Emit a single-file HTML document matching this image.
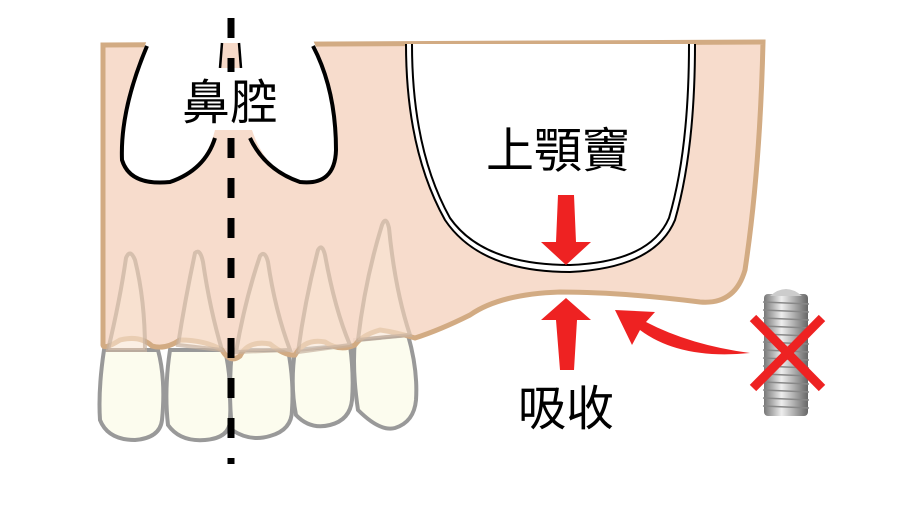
<!DOCTYPE html>
<html><head><meta charset="utf-8"><style>
html,body{margin:0;padding:0;background:#fff;width:914px;height:514px;overflow:hidden}
text{font-family:"Liberation Sans","Noto Sans CJK TC",sans-serif}
</style></head><body>
<svg width="914" height="514" viewBox="0 0 914 514" xmlns="http://www.w3.org/2000/svg">
<defs>
<linearGradient id="met" x1="0" x2="1" y1="0" y2="0">
<stop offset="0" stop-color="#777"/><stop offset="0.4" stop-color="#eee"/><stop offset="1" stop-color="#666"/>
</linearGradient>
</defs>
<!-- teeth crowns -->
<g fill="#fcfcee" stroke="#999" stroke-width="4">
<path d="M104,350 Q98,390 100,420 Q108,440 135,440 Q160,438 162,420 Q166,380 158,350 Z"/>
<path d="M170,350 Q164,390 168,425 Q180,442 205,440 Q230,438 230,420 Q232,380 225,350 Z"/>
<path d="M232,350 Q228,390 232,430 Q250,442 270,436 Q292,430 292,410 Q294,380 288,350 Z"/>
<path d="M295,350 Q290,385 296,415 Q310,430 330,425 Q350,420 352,400 Q354,375 350,345 Z"/>
<path d="M355,340 Q352,370 358,410 Q380,432 395,428 Q414,422 416,400 Q418,370 408,335 Z"/>
</g>
<!-- bone -->
<path d="M103,45 L763,42 Q760,170 745,270 Q735,305 700,302 Q620,292 560,292 Q500,294 470,315 Q440,330 415,338 Q395,332 380,330 Q362,335 355,345 Q340,352 325,342 Q305,338 295,355 Q285,356 270,344 Q248,340 240,356 Q230,364 222,350 Q205,340 180,340 Q165,350 152,346 Q140,335 120,340 Q104,350 103,345 Z" fill="#f6d9c8" fill-opacity="0.93" stroke="#d2ab83" stroke-width="5"/>
<!-- roots -->
<g fill="#f8e5d2" fill-opacity="0.6" stroke="#c8b2a0" stroke-opacity="0.7" stroke-width="4">
<path d="M108,350 Q120,300 126,258 Q130,248 135,260 Q145,300 145,350 Z"/>
<path d="M178,345 Q185,300 195,253 Q200,248 203,262 Q210,310 222,350 Z"/>
<path d="M236,352 Q245,300 260,256 Q265,250 268,262 Q275,310 290,350 Z"/>
<path d="M298,352 Q305,300 318,250 Q322,243 325,255 Q335,310 350,345 Z"/>
<path d="M358,340 Q365,280 382,225 Q386,215 389,228 Q395,290 410,335 Z"/>
</g>
<!-- nasal cavity -->
<path d="M147,40 Q120,110 122,160 Q130,186 170,182 Q205,170 215,130 L252,130 Q265,170 300,182 Q335,186 336,150 Q336,90 313,40 Z" fill="#fff"/>
<path d="M147,46 Q120,110 122,160 Q130,186 170,182 Q205,170 215,138" fill="none" stroke="#000" stroke-width="4"/>
<path d="M250,138 Q265,170 300,182 Q335,186 336,150 Q336,90 313,46" fill="none" stroke="#000" stroke-width="4"/>
<path d="M222,43 L220,68 L241,68 L239,43 Z" fill="#f6d9c8"/>
<line x1="222" y1="43" x2="220" y2="68" stroke="#000" stroke-width="2.5"/>
<line x1="239" y1="43" x2="241" y2="68" stroke="#000" stroke-width="2.5"/>
<rect x="178" y="68" width="104" height="62" fill="#fff"/>
<!-- sinus -->
<path d="M406,44 Q406,150 445,220 Q480,272 570,272 Q655,268 675,220 Q695,150 695,44" fill="#fff" stroke="#000" stroke-width="2"/>
<path d="M412,44 Q412,150 450,218 Q483,265 570,265 Q650,262 669,218 Q689,150 689,44" fill="none" stroke="#000" stroke-width="2"/>
<!-- dashed line -->
<line x1="231" y1="18" x2="231" y2="464" stroke="#000" stroke-width="7" stroke-dasharray="20,20"/>
<rect x="178" y="72" width="104" height="56" fill="#fff"/>
<!-- labels -->
<text x="230" y="119" font-size="48" text-anchor="middle" fill="#000">鼻腔</text>
<text x="558" y="167" font-size="48" text-anchor="middle" fill="#000">上顎竇</text>
<text x="566" y="425" font-size="48" text-anchor="middle" fill="#000">吸收</text>
<!-- arrows -->
<path d="M558,195 L574,195 L576,242 L591,242 L566,265 L541,242 L556,242 Z" fill="#ee2222"/>
<path d="M566,298 L591,320 L577,320 L574,370 L560,370 L556,320 L541,320 Z" fill="#ee2222"/>
<path d="M750,353 Q680,360 640,330 L632,345 L615,310 L655,312 L646,322 Q690,345 750,353 Z" fill="#ee2222"/>
<!-- implant -->
<g>
<rect x="764" y="294" width="44" height="122" rx="4" fill="url(#met)"/>
<path d="M770,296 Q786,282 802,296 Z" fill="#ccc"/>
<g stroke="#888" stroke-width="1.5">
<line x1="763" y1="302" x2="809" y2="304"/><line x1="763" y1="310" x2="809" y2="312"/><line x1="763" y1="318" x2="809" y2="320"/><line x1="763" y1="326" x2="809" y2="328"/><line x1="763" y1="334" x2="809" y2="336"/><line x1="763" y1="342" x2="809" y2="344"/><line x1="763" y1="350" x2="809" y2="352"/><line x1="763" y1="358" x2="809" y2="360"/><line x1="763" y1="366" x2="809" y2="368"/><line x1="763" y1="374" x2="809" y2="376"/><line x1="763" y1="382" x2="809" y2="384"/><line x1="763" y1="390" x2="809" y2="392"/><line x1="763" y1="398" x2="809" y2="400"/><line x1="763" y1="406" x2="809" y2="408"/>
</g>
<line x1="753" y1="318" x2="822" y2="388" stroke="#ee2222" stroke-width="9"/>
<line x1="822" y1="318" x2="753" y2="388" stroke="#ee2222" stroke-width="9"/>
</g>
</svg>
</body></html>
